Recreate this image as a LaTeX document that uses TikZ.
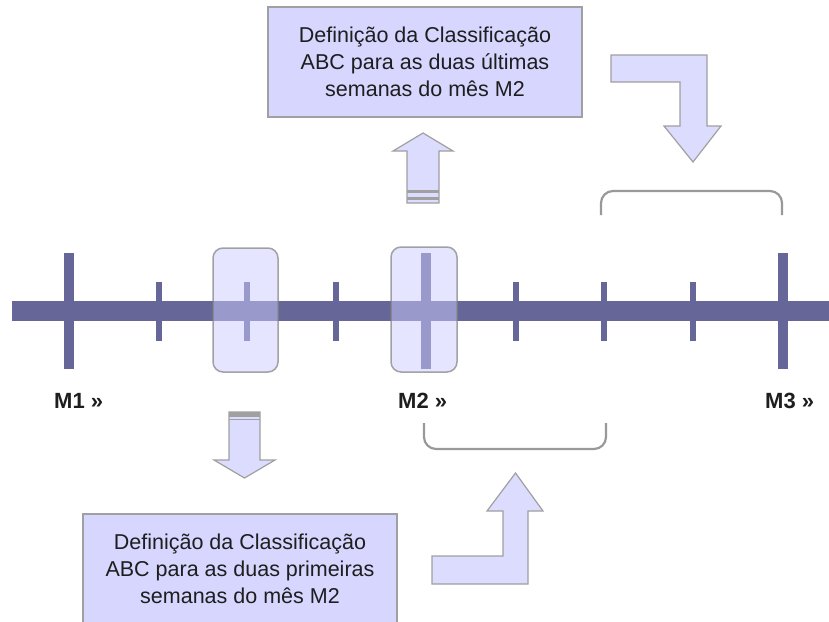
\documentclass[tikz,border=0pt]{standalone}
\usepackage{fontspec}
\setmainfont{Liberation Sans}
\definecolor{barcol}{RGB}{102,102,153}
\definecolor{boxfill}{RGB}{214,214,255}
\definecolor{arrfill}{RGB}{220,220,255}
\definecolor{edgegray}{RGB}{160,160,160}
\definecolor{hlcol}{RGB}{204,204,255}
\definecolor{txtcol}{RGB}{30,30,30}
\begin{document}
\begin{tikzpicture}[x=1pt,y=-1pt]
\tikzset{
 textbox/.style={draw=edgegray, line width=1.2pt, fill=boxfill, minimum width=314pt, minimum height=110pt, align=center, font=\fontsize{21.5}{27}\selectfont, text=txtcol, inner sep=0pt},
 blockarrow/.style={draw=edgegray, line width=1.2pt, fill=arrfill, line join=miter},
 stripe/.style={fill=edgegray},
 tickmark/.style={fill=barcol},
 hlbox/.style={draw=gray, draw opacity=0.7, line width=1.5pt, fill=hlcol, fill opacity=0.5, rounded corners=10pt},
 bracket/.style={draw=gray!80, line width=2.2pt, rounded corners=12pt},
 mlabel/.style={anchor=west, font=\bfseries\fontsize{22}{26}\selectfont, text=txtcol, inner sep=0pt},
}
\useasboundingbox (0,0) rectangle (829,621);
\clip (0,0) rectangle (829,621);
\fill[white] (0,0) rectangle (829,621);

% timeline
\fill[barcol] (12,301) rectangle (829,321);
\foreach \x in {69,426,783} \fill[tickmark] (\x-5,253) rectangle (\x+5,369);
\foreach \x in {159,247,336,516,604,693} \fill[tickmark] (\x-3,282) rectangle (\x+3,341);

% highlight boxes
\draw[hlbox] (213,248) rectangle (278,372);
\draw[hlbox] (391,247) rectangle (457,372);

% labels
\node[mlabel] (m1) at (54,401) {M1 »};
\node[mlabel] (m2) at (398,401) {M2 »};
\node[mlabel] (m3) at (765,401) {M3 »};

% text boxes
\node[textbox] (topbox) at (425,62) {Definição da Classificação\\ABC para as duas últimas\\semanas do mês M2};
\node[textbox] (botbox) at (240,569) {Definição da Classificação\\ABC para as duas primeiras\\semanas do mês M2};

% up arrow
\draw[blockarrow] (407,203) -- (407,151) -- (393,151) -- (423,133) -- (453,151) -- (439,151) -- (439,203) -- cycle;
\fill[stripe] (407,190) rectangle (439,193);
\fill[stripe] (407,197) rectangle (439,199.5);

% down arrow
\draw[blockarrow] (229,412) -- (229,460) -- (214,460) -- (244.5,478) -- (275,460) -- (260,460) -- (260,412) -- cycle;
\fill[stripe] (229,412) rectangle (260,417);
\fill[stripe] (229,418.5) rectangle (260,420);

% bent arrows
\draw[blockarrow] (432,556) -- (503,556) -- (503,511) -- (487,511) -- (515.5,473) -- (543,511) -- (528,511) -- (528,584) -- (432,584) -- cycle;
\draw[blockarrow] (611,55) -- (707,55) -- (707,126) -- (721,126) -- (693,162) -- (664,126) -- (680,126) -- (680,82) -- (611,82) -- cycle;

% brackets
\draw[bracket] (601,215) -- (601,191) -- (782,191) -- (782,215);
\draw[bracket] (424,423) -- (424,449) -- (606,449) -- (606,423);
\end{tikzpicture}
\end{document}
